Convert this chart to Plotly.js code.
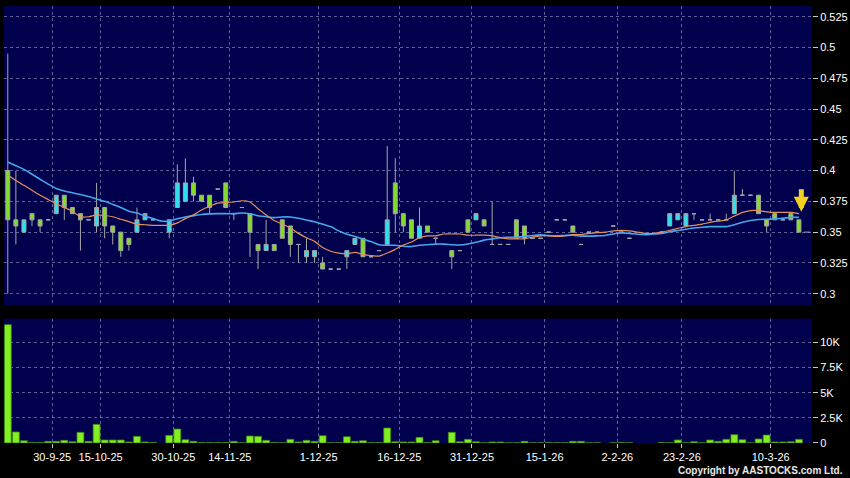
<!DOCTYPE html>
<html>
<head>
<meta charset="utf-8">
<script src="https://cdn.plot.ly/plotly-3.0.1.min.js"></script>
<style>html,body{margin:0;padding:0;background:#000;}#chart{width:850px;height:478px;}</style>
</head>
<body>
<div id="chart"></div>
<script>
// ---- data (one entry per trading session, oldest first) ----
const open = [
0.40, 0.36, 0.35, 0.365, 0.36, 0.36, 0.365, 0.38, 0.37, 0.365,
0.36, 0.355, 0.37, 0.355, 0.35, 0.345, 0.35, 0.36, 0.36, null,
0.35, 0.37, 0.375, 0.39, 0.38, 0.38, 0.385, 0.39, 0.365, 0.37,
0.365, 0.34, 0.335, 0.34, 0.36, 0.355, 0.34, 0.33, 0.33, 0.325,
0.32, 0.32, 0.33, 0.34, 0.345, 0.33, 0.335, 0.34, 0.39, 0.365,
0.36, 0.345, 0.355, 0.345, null, 0.335, 0.335, 0.36, 0.36, 0.36,
0.34, 0.34, 0.34, 0.36, 0.355, 0.345, 0.345, 0.35, 0.36, 0.36,
0.355, 0.34, 0.35, 0.35, null, 0.355, 0.35, 0.345, null, null,
null, 0.35, 0.355, 0.36, 0.355, 0.365, 0.36, 0.36, 0.36, 0.36,
0.365, 0.38, 0.38, 0.38, 0.36, 0.365, 0.36, 0.365, 0.36];
const high = [
0.495, 0.40, 0.36, 0.365, 0.36, 0.36, 0.38, 0.38, 0.37, 0.365,
0.36, 0.39, 0.37, 0.355, 0.35, 0.345, 0.37, 0.365, 0.36, null,
0.36, 0.405, 0.41, 0.395, 0.38, 0.38, 0.385, 0.39, 0.365, 0.37,
0.365, 0.34, 0.36, 0.34, 0.36, 0.355, 0.34, 0.345, 0.335, 0.33,
0.32, 0.32, 0.335, 0.345, 0.345, 0.33, 0.335, 0.42, 0.41, 0.365,
0.36, 0.37, 0.355, 0.345, null, 0.335, 0.335, 0.36, 0.365, 0.36,
0.375, 0.34, 0.34, 0.36, 0.355, 0.345, 0.345, 0.35, 0.36, 0.36,
0.355, 0.34, 0.35, 0.35, null, 0.355, 0.35, 0.345, null, null,
null, 0.35, 0.365, 0.365, 0.365, 0.365, 0.36, 0.365, 0.36, 0.365,
0.40, 0.385, 0.38, 0.38, 0.36, 0.365, 0.36, 0.365, 0.36];
const low = [
0.30, 0.34, 0.35, 0.355, 0.35, 0.36, 0.365, 0.36, 0.365, 0.335,
0.36, 0.35, 0.345, 0.34, 0.33, 0.335, 0.35, 0.36, 0.36, null,
0.345, 0.37, 0.375, 0.375, 0.375, 0.365, 0.385, 0.37, 0.36, 0.37,
0.33, 0.32, 0.335, 0.335, 0.345, 0.33, 0.325, 0.325, 0.325, 0.32,
0.32, 0.32, 0.32, 0.34, 0.33, 0.33, 0.335, 0.34, 0.35, 0.35,
0.345, 0.345, 0.35, 0.34, null, 0.32, 0.335, 0.35, 0.36, 0.355,
0.34, 0.34, 0.34, 0.345, 0.34, 0.345, 0.345, 0.35, 0.36, 0.36,
0.35, 0.34, 0.35, 0.35, null, 0.355, 0.35, 0.345, null, null,
null, 0.35, 0.355, 0.36, 0.355, 0.36, 0.36, 0.36, 0.36, 0.36,
0.365, 0.38, 0.38, 0.365, 0.35, 0.36, 0.36, 0.36, 0.35];
const close = [
0.36, 0.355, 0.36, 0.36, 0.355, 0.36, 0.38, 0.37, 0.365, 0.36,
0.36, 0.37, 0.355, 0.35, 0.335, 0.34, 0.36, 0.365, 0.36, null,
0.36, 0.39, 0.39, 0.38, 0.375, 0.37, 0.385, 0.37, 0.365, 0.37,
0.35, 0.335, 0.34, 0.335, 0.345, 0.34, 0.34, 0.335, 0.335, 0.32,
0.32, 0.32, 0.335, 0.345, 0.33, 0.33, 0.335, 0.36, 0.365, 0.355,
0.345, 0.355, 0.35, 0.345, null, 0.33, 0.335, 0.35, 0.365, 0.355,
0.34, 0.34, 0.34, 0.345, 0.345, 0.345, 0.345, 0.35, 0.36, 0.36,
0.35, 0.34, 0.35, 0.35, null, 0.355, 0.35, 0.345, null, null,
null, 0.35, 0.365, 0.365, 0.365, 0.365, 0.36, 0.36, 0.36, 0.36,
0.38, 0.38, 0.38, 0.365, 0.355, 0.36, 0.36, 0.36, 0.35];
const volume = [
11750, 1100, 230, 60, 60, 165, 165, 265, 130, 1060,
165, 1850, 300, 300, 300, 100, 660, 100, 60, null,
760, 1390, 330, 165, 50, 50, 50, 40, 165, 30,
695, 660, 265, 60, 30, 365, 100, 265, 165, 730,
30, 30, 630, 165, 230, 40, 40, 1490, 130, 100,
100, 560, 40, 230, null, 1060, 130, 365, 130, 30,
100, 100, 30, 30, 165, 30, 30, 60, 30, 30,
165, 165, 20, 20, null, 20, 60, 20, null, null,
null, 60, 30, 300, 30, 130, 30, 300, 165, 365,
830, 330, 20, 400, 795, 100, 100, 130, 365];
const ma10 = [
0.3965, 0.392, 0.388, 0.384, 0.380, 0.3765, 0.373, 0.370, 0.367, 0.3625,
0.3625, 0.364, 0.3635, 0.3625, 0.3605, 0.3585, 0.3565, 0.356, 0.3555, 0.3555,
0.3555, 0.3575, 0.361, 0.364, 0.368, 0.371, 0.3735, 0.374, 0.3745, 0.3755,
0.3745, 0.369, 0.364, 0.3595, 0.3565, 0.3535, 0.349, 0.3455, 0.3425, 0.3375,
0.3345, 0.333, 0.3325, 0.3335, 0.332, 0.331, 0.3305, 0.333, 0.336, 0.3395,
0.342, 0.3455, 0.347, 0.347, 0.3485, 0.3485, 0.3485, 0.3475, 0.3475, 0.3475,
0.347, 0.3455, 0.3445, 0.3445, 0.3445, 0.346, 0.347, 0.347, 0.3465, 0.347,
0.348, 0.348, 0.349, 0.3495, 0.350, 0.351, 0.3515, 0.351, 0.350, 0.349,
0.349, 0.350, 0.3515, 0.353, 0.3545, 0.3555, 0.3565, 0.358, 0.359, 0.360,
0.363, 0.366, 0.3675, 0.3675, 0.3665, 0.366, 0.366, 0.366, 0.365];
const ma20 = [
0.407, 0.404, 0.401, 0.397, 0.393, 0.389, 0.3855, 0.3835, 0.382, 0.3805,
0.379, 0.377, 0.375, 0.3725, 0.370, 0.367, 0.3655, 0.363, 0.361, 0.359,
0.359, 0.3608, 0.3623, 0.3633, 0.3643, 0.3648, 0.365, 0.365, 0.365, 0.3655,
0.365, 0.3633, 0.3625, 0.3618, 0.3623, 0.3623, 0.3613, 0.3598, 0.3585, 0.3565,
0.3545, 0.351, 0.3483, 0.3465, 0.3443, 0.3423, 0.3398, 0.3393, 0.3393, 0.3385,
0.3383, 0.3393, 0.3398, 0.3403, 0.3403, 0.3398, 0.3395, 0.3403, 0.3418, 0.3435,
0.3445, 0.3455, 0.3458, 0.3458, 0.3465, 0.3473, 0.3478, 0.3473, 0.347, 0.3473,
0.3475, 0.3468, 0.3468, 0.347, 0.3473, 0.3485, 0.3493, 0.349, 0.3483, 0.348,
0.3485, 0.349, 0.3503, 0.3513, 0.3523, 0.3533, 0.354, 0.3545, 0.3545, 0.3545,
0.356, 0.358, 0.3595, 0.3603, 0.3605, 0.3608, 0.3613, 0.362, 0.362];

// date-boundary positions (in session index units) and their labels
const dateTickPos = [5.5, 11.5, 20.5, 27.5, 38.5, 48.5, 57.5, 66.5, 75.5, 83.5, 94.5];
const dateTickText = ['30-9-25','15-10-25','30-10-25','14-11-25','1-12-25','16-12-25','31-12-25','15-1-26','2-2-26','23-2-26','10-3-26'];
const priceTicks = [0.3, 0.325, 0.35, 0.375, 0.4, 0.425, 0.45, 0.475, 0.5, 0.525];
const priceTickText = ['0.3','0.325','0.35','0.375','0.4','0.425','0.45','0.475','0.5','0.525'];
const volTicks = [0, 2500, 5000, 7500, 10000];
const volTickText = ['0','2.5K','5K','7.5K','10K'];

// ---- drawing ----
const xs = close.map((_, i) => i);
const last = close.length - 1;
const GRID = 'rgba(165,175,215,0.55)';
const GDASH = '3px,3px';
const tickFont = {family: 'Liberation Sans, Arial, sans-serif', size: 11, color: '#ffffff'};

const traces = [
  {type: 'scatter', mode: 'lines', x: xs, y: ma20, xaxis: 'x', yaxis: 'y',
   line: {color: '#46a6ec', width: 1.6, shape: 'spline', smoothing: 0.6}, hoverinfo: 'skip'},
  {type: 'scatter', mode: 'lines', x: xs, y: ma10, xaxis: 'x', yaxis: 'y',
   line: {color: '#e2905c', width: 1.2, shape: 'spline', smoothing: 0.6}, hoverinfo: 'skip'},
  {type: 'candlestick', x: xs, open: open, high: high, low: low, close: close,
   xaxis: 'x', yaxis: 'y', whiskerwidth: 0,
   increasing: {fillcolor: '#27e3f2', line: {color: '#a6a6a6', width: 1}},
   decreasing: {fillcolor: '#7fe01f', line: {color: '#a6a6a6', width: 1}},
   hoverinfo: 'skip'},
  {type: 'scatter', mode: 'lines', x: [last + 0.6, last + 1.4], y: [close[last], close[last]],
   xaxis: 'x', yaxis: 'y', line: {color: '#a6a6a6', width: 1}, hoverinfo: 'skip'},
  {type: 'bar', x: xs, y: volume, xaxis: 'x2', yaxis: 'y2', width: 0.86,
   marker: {color: '#80f020', line: {color: '#3f7f10', width: 0.8}}, hoverinfo: 'skip'}
];

const xCommon = {range: [-0.47, 99.62], tickvals: dateTickPos, showgrid: true, gridcolor: GRID,
  griddash: GDASH, gridwidth: 1, zeroline: false, showline: false, fixedrange: true};

const layout = {
  width: 850, height: 478,
  paper_bgcolor: '#000000', plot_bgcolor: '#00004c',
  margin: {l: 4, r: 38.3, t: 6, b: 34.5, pad: 0},
  showlegend: false,
  xaxis: Object.assign({}, xCommon, {anchor: 'y', showticklabels: false, ticks: '',
    rangeslider: {visible: false}}),
  xaxis2: Object.assign({}, xCommon, {anchor: 'y2', ticktext: dateTickText, ticks: 'outside',
    ticklen: 4, tickcolor: '#c8c8c8', tickfont: tickFont}),
  yaxis: {domain: [0.3152, 1], anchor: 'x', side: 'right', range: [0.2906, 0.5337],
    tickvals: priceTicks, ticktext: priceTickText, ticks: 'outside', ticklen: 5,
    tickcolor: '#c8c8c8', tickfont: tickFont, showgrid: true, gridcolor: GRID,
    griddash: GDASH, zeroline: false, showline: false, fixedrange: true},
  yaxis2: {domain: [0, 0.2846], anchor: 'x2', side: 'right', range: [0, 12350],
    tickvals: volTicks, ticktext: volTickText, ticks: 'outside', ticklen: 5,
    tickcolor: '#c8c8c8', tickfont: tickFont, showgrid: true, gridcolor: GRID,
    griddash: GDASH, zeroline: false, showline: false, fixedrange: true},
  annotations: [
    {x: last + 0.3, y: Math.max(ma10[last], high[last]) + 0.0015, xref: 'x', yref: 'y',
     ax: 0, ay: -24, text: '', showarrow: true, arrowhead: 2, arrowsize: 0.6,
     arrowwidth: 5, arrowcolor: '#f2d21e'},
    {x: 1.0412, y: -0.0629, xref: 'paper', yref: 'paper', xanchor: 'right', yanchor: 'middle',
     text: 'Copyright by AASTOCKS.com Ltd.', showarrow: false,
     font: {family: 'Liberation Sans, Arial, sans-serif', size: 10, color: '#e8e8e8', weight: 'bold'}}
  ]
};

Plotly.newPlot('chart', traces, layout, {displayModeBar: false, staticPlot: true});
</script>
</body>
</html>
